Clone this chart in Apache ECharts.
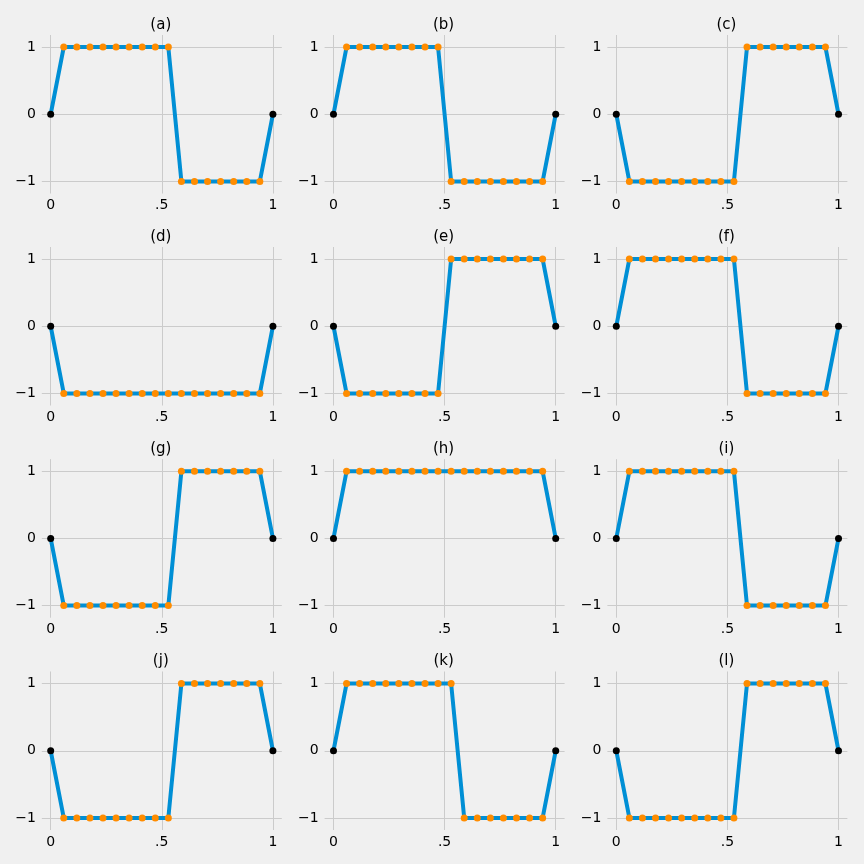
<!DOCTYPE html>
<html>
<head>
<meta charset="utf-8">
<script src="https://cdn.jsdelivr.net/npm/echarts@6/dist/echarts.min.js"></script>
<style>
html,body{margin:0;padding:0;background:#f0f0f0;}
#c{width:864px;height:864px;}
</style>
</head>
<body>
<div id="c"></div>
<script>
// x positions of the 18 samples
const xValues = [0, 0.0588, 0.1176, 0.1765, 0.2353, 0.2941, 0.3529, 0.4118, 0.4706, 0.5294, 0.5882, 0.6471, 0.7059, 0.7647, 0.8235, 0.8824, 0.9412, 1];

const panelTitles = ['(a)','(b)','(c)','(d)','(e)','(f)','(g)','(h)','(i)','(j)','(k)','(l)'];

const yA = [0, 1,1,1,1,1,1,1,1,1, -1,-1,-1,-1,-1,-1,-1, 0];
const yB = [0, 1,1,1,1,1,1,1,1, -1,-1,-1,-1,-1,-1,-1,-1, 0];
const yC = [0, -1,-1,-1,-1,-1,-1,-1,-1,-1, 1,1,1,1,1,1,1, 0];
const yD = [0, -1,-1,-1,-1,-1,-1,-1,-1,-1,-1,-1,-1,-1,-1,-1,-1, 0];
const yE = [0, -1,-1,-1,-1,-1,-1,-1,-1, 1,1,1,1,1,1,1,1, 0];
const yF = [0, 1,1,1,1,1,1,1,1,1, -1,-1,-1,-1,-1,-1,-1, 0];
const yG = [0, -1,-1,-1,-1,-1,-1,-1,-1,-1, 1,1,1,1,1,1,1, 0];
const yH = [0, 1,1,1,1,1,1,1,1,1,1,1,1,1,1,1,1, 0];
const yI = [0, 1,1,1,1,1,1,1,1,1, -1,-1,-1,-1,-1,-1,-1, 0];
const yJ = [0, -1,-1,-1,-1,-1,-1,-1,-1,-1, 1,1,1,1,1,1,1, 0];
const yK = [0, 1,1,1,1,1,1,1,1,1, -1,-1,-1,-1,-1,-1,-1, 0];
const yL = [0, -1,-1,-1,-1,-1,-1,-1,-1,-1, 1,1,1,1,1,1,1, 0];
const panelValues = [yA,yB,yC,yD,yE,yF,yG,yH,yI,yJ,yK,yL];

const xTickValues = [0, 0.5, 1];
const xTickLabels = ['0', '.5', '1'];
const yTickValues = [-1, 0, 1];
const yTickLabels = ['\u22121', '0', '1'];

const FONT = 'DejaVu Sans';
const colLeft = [41.8, 324.6, 607.4];
const rowTop = [35, 247, 459.2, 671.5];
const W = 240, H = 158.5;

const grids = [], xAxes = [], yAxes = [], series = [], graphics = [];
panelValues.forEach((ys, i) => {
  const r = Math.floor(i / 3), c = i % 3;
  grids.push({left: colLeft[c], top: rowTop[r], width: W, height: H, containLabel: false});
  xAxes.push({
    type: 'value', gridIndex: i, min: -0.04, max: 1.04,
    axisLine: {show: false}, axisTick: {show: false, customValues: xTickValues},
    axisLabel: {customValues: xTickValues, margin: 5, color: '#000', fontFamily: FONT, fontSize: 14,
      formatter: v => xTickLabels[xTickValues.indexOf(v)] ?? ''},
    splitLine: {show: true, lineStyle: {color: '#cbcbcb', width: 1}}
  });
  yAxes.push({
    type: 'value', gridIndex: i, min: -1.18, max: 1.18,
    axisLine: {show: false}, axisTick: {show: false, customValues: yTickValues},
    axisLabel: {customValues: yTickValues, margin: 6, color: '#000', fontFamily: FONT, fontSize: 14,
      formatter: v => yTickLabels[yTickValues.indexOf(v)] ?? ''},
    splitLine: {show: true, lineStyle: {color: '#cbcbcb', width: 1}}
  });
  const data = ys.map((y, k) => {
    const item = {value: [xValues[k], y]};
    if (k === 0 || k === ys.length - 1) item.itemStyle = {color: '#000000'};
    return item;
  });
  series.push({
    type: 'line', xAxisIndex: i, yAxisIndex: i, data: data,
    symbol: 'circle', symbolSize: 7, showSymbol: true,
    lineStyle: {color: '#008fd5', width: 4},
    itemStyle: {color: '#ff8c00', borderWidth: 0},
    emphasis: {disabled: true}, animation: false
  });
  graphics.push({
    type: 'text', x: colLeft[c] + W / 2 - 1, y: rowTop[r] - 10,
    style: {text: panelTitles[i], textAlign: 'center', textVerticalAlign: 'middle',
      font: '15px "DejaVu Sans"', fill: '#000'}
  });
});

const chart = echarts.init(document.getElementById('c'), null, {renderer: 'canvas'});
chart.setOption({
  backgroundColor: '#f0f0f0',
  animation: false,
  graphic: graphics,
  grid: grids,
  xAxis: xAxes,
  yAxis: yAxes,
  series: series
});
</script>
</body>
</html>
